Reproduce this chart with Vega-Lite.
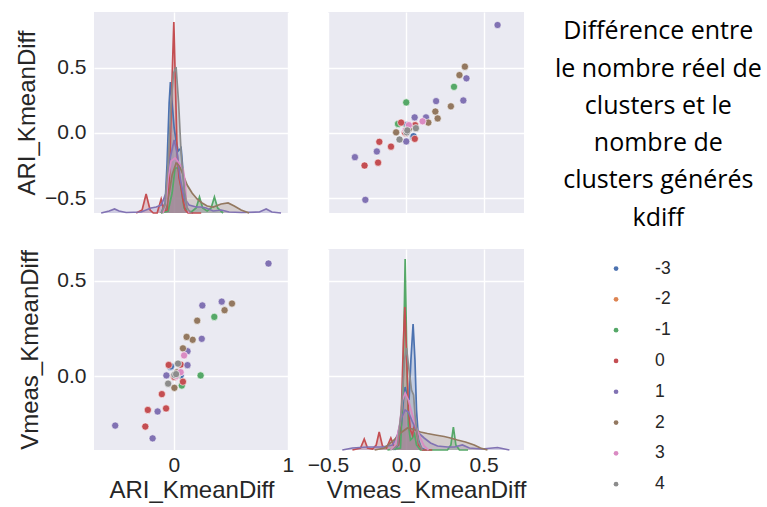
{
"$schema": "https://vega.github.io/schema/vega-lite/v6.json",
"padding": {"left": 15, "top": 12, "right": 5, "bottom": 5},
"bounds": "flush",
"columns": 2,
"spacing": {"row": 36, "column": 39},
"resolve": {"legend": {"color": "independent"}},
"datasets": {
"pts": [
{"ARI":-0.03,"Vmeas":0.047,"kdiff":-3},{"ARI":-0.025,"Vmeas":0.05,"kdiff":-3},{"ARI":0.06,"Vmeas":0.003,"kdiff":-3},{"ARI":0.0,"Vmeas":0.0,"kdiff":-3},
{"ARI":0.235,"Vmeas":0.003,"kdiff":-1},{"ARI":0.355,"Vmeas":0.31,"kdiff":-1},{"ARI":0.07,"Vmeas":-0.05,"kdiff":-1},{"ARI":0.02,"Vmeas":0.0,"kdiff":-1},{"ARI":0.03,"Vmeas":0.003,"kdiff":-1},
{"ARI":-0.045,"Vmeas":0.058,"kdiff":0},{"ARI":-0.105,"Vmeas":-0.095,"kdiff":0},{"ARI":-0.068,"Vmeas":-0.17,"kdiff":0},{"ARI":-0.25,"Vmeas":-0.265,"kdiff":0},{"ARI":-0.228,"Vmeas":-0.178,"kdiff":0},{"ARI":0.0,"Vmeas":0.0,"kdiff":0},{"ARI":0.005,"Vmeas":-0.005,"kdiff":0},{"ARI":0.08,"Vmeas":-0.03,"kdiff":0},{"ARI":0.06,"Vmeas":0.06,"kdiff":0},
{"ARI":0.83,"Vmeas":0.59,"kdiff":1},{"ARI":0.42,"Vmeas":0.39,"kdiff":1},{"ARI":0.25,"Vmeas":0.37,"kdiff":1},{"ARI":0.245,"Vmeas":0.195,"kdiff":1},{"ARI":0.12,"Vmeas":0.13,"kdiff":1},{"ARI":0.12,"Vmeas":0.057,"kdiff":1},{"ARI":-0.065,"Vmeas":0.003,"kdiff":1},{"ARI":-0.142,"Vmeas":-0.186,"kdiff":1},{"ARI":-0.186,"Vmeas":-0.327,"kdiff":1},{"ARI":-0.514,"Vmeas":-0.26,"kdiff":1},
{"ARI":0.51,"Vmeas":0.38,"kdiff":2},{"ARI":0.445,"Vmeas":0.345,"kdiff":2},{"ARI":0.205,"Vmeas":0.29,"kdiff":2},{"ARI":0.165,"Vmeas":0.19,"kdiff":2},{"ARI":0.112,"Vmeas":0.205,"kdiff":2},{"ARI":0.08,"Vmeas":0.145,"kdiff":2},{"ARI":0.005,"Vmeas":-0.062,"kdiff":2},{"ARI":0.03,"Vmeas":0.02,"kdiff":2},
{"ARI":0.09,"Vmeas":0.108,"kdiff":3},{"ARI":0.02,"Vmeas":0.0,"kdiff":3},{"ARI":0.06,"Vmeas":0.02,"kdiff":3},
{"ARI":0.037,"Vmeas":0.065,"kdiff":4},{"ARI":0.005,"Vmeas":0.006,"kdiff":4},{"ARI":-0.05,"Vmeas":-0.04,"kdiff":4},{"ARI":0.02,"Vmeas":0.01,"kdiff":4}
],
"kde": [
{"var":"ARI","kdiff":-3,"x":-0.111,"d":0},{"var":"ARI","kdiff":-3,"x":-0.076,"d":2},{"var":"ARI","kdiff":-3,"x":-0.059,"d":10},{"var":"ARI","kdiff":-3,"x":-0.041,"d":22},{"var":"ARI","kdiff":-3,"x":-0.03,"d":26.2},{"var":"ARI","kdiff":-3,"x":-0.015,"d":22},{"var":"ARI","kdiff":-3,"x":0.003,"d":17},{"var":"ARI","kdiff":-3,"x":0.02,"d":14.4},{"var":"ARI","kdiff":-3,"x":0.038,"d":12.4},{"var":"ARI","kdiff":-3,"x":0.064,"d":13},{"var":"ARI","kdiff":-3,"x":0.082,"d":8},{"var":"ARI","kdiff":-3,"x":0.1,"d":2.4},{"var":"ARI","kdiff":-3,"x":0.125,"d":0.4},{"var":"ARI","kdiff":-3,"x":0.17,"d":0},
{"var":"ARI","kdiff":-1,"x":-0.111,"d":0},{"var":"ARI","kdiff":-1,"x":-0.05,"d":0.4},{"var":"ARI","kdiff":-1,"x":-0.015,"d":4},{"var":"ARI","kdiff":-1,"x":0.011,"d":9},{"var":"ARI","kdiff":-1,"x":0.038,"d":9},{"var":"ARI","kdiff":-1,"x":0.064,"d":5},{"var":"ARI","kdiff":-1,"x":0.09,"d":1},{"var":"ARI","kdiff":-1,"x":0.117,"d":0.6},{"var":"ARI","kdiff":-1,"x":0.152,"d":0.2},{"var":"ARI","kdiff":-1,"x":0.196,"d":1},{"var":"ARI","kdiff":-1,"x":0.225,"d":3.2},{"var":"ARI","kdiff":-1,"x":0.253,"d":1},{"var":"ARI","kdiff":-1,"x":0.292,"d":0.4},{"var":"ARI","kdiff":-1,"x":0.327,"d":1},{"var":"ARI","kdiff":-1,"x":0.356,"d":3.2},{"var":"ARI","kdiff":-1,"x":0.384,"d":1},{"var":"ARI","kdiff":-1,"x":0.432,"d":0},
{"var":"ARI","kdiff":0,"x":-0.33,"d":0},{"var":"ARI","kdiff":0,"x":-0.278,"d":0.6},{"var":"ARI","kdiff":0,"x":-0.243,"d":3.8},{"var":"ARI","kdiff":0,"x":-0.208,"d":0.6},{"var":"ARI","kdiff":0,"x":-0.18,"d":0},{"var":"ARI","kdiff":0,"x":-0.146,"d":0},{"var":"ARI","kdiff":0,"x":-0.111,"d":2.8},{"var":"ARI","kdiff":0,"x":-0.085,"d":0.4},{"var":"ARI","kdiff":0,"x":-0.059,"d":0.6},{"var":"ARI","kdiff":0,"x":-0.037,"d":8},{"var":"ARI","kdiff":0,"x":-0.019,"d":24},{"var":"ARI","kdiff":0,"x":0.0,"d":38.2},{"var":"ARI","kdiff":0,"x":0.016,"d":24},{"var":"ARI","kdiff":0,"x":0.029,"d":12},{"var":"ARI","kdiff":0,"x":0.046,"d":7},{"var":"ARI","kdiff":0,"x":0.064,"d":5},{"var":"ARI","kdiff":0,"x":0.082,"d":2.4},{"var":"ARI","kdiff":0,"x":0.1,"d":0.6},{"var":"ARI","kdiff":0,"x":0.125,"d":0},{"var":"ARI","kdiff":0,"x":0.24,"d":0},
{"var":"ARI","kdiff":1,"x":-0.637,"d":0},{"var":"ARI","kdiff":1,"x":-0.567,"d":0.4},{"var":"ARI","kdiff":1,"x":-0.52,"d":0.8},{"var":"ARI","kdiff":1,"x":-0.48,"d":0.4},{"var":"ARI","kdiff":1,"x":-0.418,"d":0.1},{"var":"ARI","kdiff":1,"x":-0.287,"d":0.2},{"var":"ARI","kdiff":1,"x":-0.2,"d":1},{"var":"ARI","kdiff":1,"x":-0.155,"d":1.2},{"var":"ARI","kdiff":1,"x":-0.11,"d":1.6},{"var":"ARI","kdiff":1,"x":-0.068,"d":4},{"var":"ARI","kdiff":1,"x":-0.032,"d":11},{"var":"ARI","kdiff":1,"x":0.003,"d":14.6},{"var":"ARI","kdiff":1,"x":0.029,"d":12},{"var":"ARI","kdiff":1,"x":0.055,"d":7},{"var":"ARI","kdiff":1,"x":0.09,"d":3},{"var":"ARI","kdiff":1,"x":0.134,"d":1.6},{"var":"ARI","kdiff":1,"x":0.196,"d":1.2},{"var":"ARI","kdiff":1,"x":0.24,"d":1.2},{"var":"ARI","kdiff":1,"x":0.283,"d":1},{"var":"ARI","kdiff":1,"x":0.345,"d":0.4},{"var":"ARI","kdiff":1,"x":0.415,"d":0.6},{"var":"ARI","kdiff":1,"x":0.485,"d":0.2},{"var":"ARI","kdiff":1,"x":0.59,"d":0.1},{"var":"ARI","kdiff":1,"x":0.75,"d":0.2},{"var":"ARI","kdiff":1,"x":0.81,"d":0.8},{"var":"ARI","kdiff":1,"x":0.86,"d":0.2},{"var":"ARI","kdiff":1,"x":0.94,"d":0},
{"var":"ARI","kdiff":2,"x":-0.111,"d":0},{"var":"ARI","kdiff":2,"x":-0.068,"d":1},{"var":"ARI","kdiff":2,"x":-0.041,"d":4},{"var":"ARI","kdiff":2,"x":-0.015,"d":7.6},{"var":"ARI","kdiff":2,"x":0.02,"d":10},{"var":"ARI","kdiff":2,"x":0.046,"d":9.6},{"var":"ARI","kdiff":2,"x":0.082,"d":7.6},{"var":"ARI","kdiff":2,"x":0.117,"d":5.6},{"var":"ARI","kdiff":2,"x":0.16,"d":4},{"var":"ARI","kdiff":2,"x":0.204,"d":2.8},{"var":"ARI","kdiff":2,"x":0.248,"d":2},{"var":"ARI","kdiff":2,"x":0.292,"d":1.4},{"var":"ARI","kdiff":2,"x":0.345,"d":1.2},{"var":"ARI","kdiff":2,"x":0.415,"d":1.8},{"var":"ARI","kdiff":2,"x":0.476,"d":2},{"var":"ARI","kdiff":2,"x":0.53,"d":1.4},{"var":"ARI","kdiff":2,"x":0.59,"d":0.6},{"var":"ARI","kdiff":2,"x":0.66,"d":0},
{"var":"ARI","kdiff":3,"x":-0.094,"d":0},{"var":"ARI","kdiff":3,"x":-0.068,"d":2},{"var":"ARI","kdiff":3,"x":-0.05,"d":7},{"var":"ARI","kdiff":3,"x":-0.024,"d":10.4},{"var":"ARI","kdiff":3,"x":0.011,"d":11},{"var":"ARI","kdiff":3,"x":0.046,"d":10},{"var":"ARI","kdiff":3,"x":0.082,"d":8.8},{"var":"ARI","kdiff":3,"x":0.1,"d":6},{"var":"ARI","kdiff":3,"x":0.112,"d":1.6},{"var":"ARI","kdiff":3,"x":0.134,"d":0},
{"var":"ARI","kdiff":4,"x":-0.111,"d":0},{"var":"ARI","kdiff":4,"x":-0.076,"d":1.6},{"var":"ARI","kdiff":4,"x":-0.05,"d":10},{"var":"ARI","kdiff":4,"x":-0.024,"d":22},{"var":"ARI","kdiff":4,"x":-0.002,"d":28},{"var":"ARI","kdiff":4,"x":0.02,"d":29.2},{"var":"ARI","kdiff":4,"x":0.042,"d":22},{"var":"ARI","kdiff":4,"x":0.064,"d":12},{"var":"ARI","kdiff":4,"x":0.09,"d":5},{"var":"ARI","kdiff":4,"x":0.117,"d":1},{"var":"ARI","kdiff":4,"x":0.15,"d":0},
{"var":"Vmeas","kdiff":-3,"x":-0.073,"d":0},{"var":"Vmeas","kdiff":-3,"x":-0.047,"d":1},{"var":"Vmeas","kdiff":-3,"x":-0.028,"d":5},{"var":"Vmeas","kdiff":-3,"x":-0.015,"d":10},{"var":"Vmeas","kdiff":-3,"x":-0.004,"d":12.6},{"var":"Vmeas","kdiff":-3,"x":0.008,"d":11},{"var":"Vmeas","kdiff":-3,"x":0.021,"d":10},{"var":"Vmeas","kdiff":-3,"x":0.033,"d":18},{"var":"Vmeas","kdiff":-3,"x":0.047,"d":25.2},{"var":"Vmeas","kdiff":-3,"x":0.059,"d":18},{"var":"Vmeas","kdiff":-3,"x":0.069,"d":8},{"var":"Vmeas","kdiff":-3,"x":0.082,"d":2},{"var":"Vmeas","kdiff":-3,"x":0.1,"d":0.4},{"var":"Vmeas","kdiff":-3,"x":0.127,"d":0},
{"var":"Vmeas","kdiff":-1,"x":-0.118,"d":0},{"var":"Vmeas","kdiff":-1,"x":-0.034,"d":0.4},{"var":"Vmeas","kdiff":-1,"x":-0.018,"d":12},{"var":"Vmeas","kdiff":-1,"x":-0.004,"d":38.2},{"var":"Vmeas","kdiff":-1,"x":0.008,"d":16},{"var":"Vmeas","kdiff":-1,"x":0.017,"d":5},{"var":"Vmeas","kdiff":-1,"x":0.03,"d":2},{"var":"Vmeas","kdiff":-1,"x":0.043,"d":2.4},{"var":"Vmeas","kdiff":-1,"x":0.056,"d":3.2},{"var":"Vmeas","kdiff":-1,"x":0.069,"d":1},{"var":"Vmeas","kdiff":-1,"x":0.094,"d":0},{"var":"Vmeas","kdiff":-1,"x":0.268,"d":0},{"var":"Vmeas","kdiff":-1,"x":0.29,"d":1},{"var":"Vmeas","kdiff":-1,"x":0.306,"d":4.6},{"var":"Vmeas","kdiff":-1,"x":0.322,"d":1},{"var":"Vmeas","kdiff":-1,"x":0.345,"d":0},{"var":"Vmeas","kdiff":-1,"x":0.4,"d":0},
{"var":"Vmeas","kdiff":0,"x":-0.343,"d":0},{"var":"Vmeas","kdiff":0,"x":-0.291,"d":0.4},{"var":"Vmeas","kdiff":0,"x":-0.267,"d":2.2},{"var":"Vmeas","kdiff":0,"x":-0.246,"d":0.4},{"var":"Vmeas","kdiff":0,"x":-0.214,"d":0.2},{"var":"Vmeas","kdiff":0,"x":-0.19,"d":1},{"var":"Vmeas","kdiff":0,"x":-0.171,"d":3.6},{"var":"Vmeas","kdiff":0,"x":-0.15,"d":0.8},{"var":"Vmeas","kdiff":0,"x":-0.124,"d":0.4},{"var":"Vmeas","kdiff":0,"x":-0.096,"d":2.4},{"var":"Vmeas","kdiff":0,"x":-0.073,"d":0.6},{"var":"Vmeas","kdiff":0,"x":-0.047,"d":1},{"var":"Vmeas","kdiff":0,"x":-0.028,"d":8},{"var":"Vmeas","kdiff":0,"x":-0.015,"d":22},{"var":"Vmeas","kdiff":0,"x":-0.006,"d":28.6},{"var":"Vmeas","kdiff":0,"x":0.004,"d":20},{"var":"Vmeas","kdiff":0,"x":0.017,"d":8},{"var":"Vmeas","kdiff":0,"x":0.03,"d":4},{"var":"Vmeas","kdiff":0,"x":0.043,"d":3},{"var":"Vmeas","kdiff":0,"x":0.056,"d":5},{"var":"Vmeas","kdiff":0,"x":0.069,"d":4},{"var":"Vmeas","kdiff":0,"x":0.082,"d":1},{"var":"Vmeas","kdiff":0,"x":0.107,"d":0},{"var":"Vmeas","kdiff":0,"x":0.17,"d":0},
{"var":"Vmeas","kdiff":1,"x":-0.408,"d":0},{"var":"Vmeas","kdiff":1,"x":-0.343,"d":0.4},{"var":"Vmeas","kdiff":1,"x":-0.246,"d":0.6},{"var":"Vmeas","kdiff":1,"x":-0.15,"d":0.6},{"var":"Vmeas","kdiff":1,"x":-0.085,"d":1},{"var":"Vmeas","kdiff":1,"x":-0.053,"d":3},{"var":"Vmeas","kdiff":1,"x":-0.028,"d":6.4},{"var":"Vmeas","kdiff":1,"x":-0.004,"d":8},{"var":"Vmeas","kdiff":1,"x":0.017,"d":7.6},{"var":"Vmeas","kdiff":1,"x":0.043,"d":5.6},{"var":"Vmeas","kdiff":1,"x":0.075,"d":3.6},{"var":"Vmeas","kdiff":1,"x":0.118,"d":2.4},{"var":"Vmeas","kdiff":1,"x":0.159,"d":1.4},{"var":"Vmeas","kdiff":1,"x":0.204,"d":0.8},{"var":"Vmeas","kdiff":1,"x":0.268,"d":0.6},{"var":"Vmeas","kdiff":1,"x":0.313,"d":0.6},{"var":"Vmeas","kdiff":1,"x":0.364,"d":1},{"var":"Vmeas","kdiff":1,"x":0.409,"d":0.4},{"var":"Vmeas","kdiff":1,"x":0.49,"d":0.2},{"var":"Vmeas","kdiff":1,"x":0.59,"d":0.5},{"var":"Vmeas","kdiff":1,"x":0.666,"d":0},
{"var":"Vmeas","kdiff":2,"x":-0.2,"d":0},{"var":"Vmeas","kdiff":2,"x":-0.137,"d":0.4},{"var":"Vmeas","kdiff":2,"x":-0.075,"d":2},{"var":"Vmeas","kdiff":2,"x":-0.034,"d":3.4},{"var":"Vmeas","kdiff":2,"x":0.011,"d":4.4},{"var":"Vmeas","kdiff":2,"x":0.043,"d":4.2},{"var":"Vmeas","kdiff":2,"x":0.094,"d":3.6},{"var":"Vmeas","kdiff":2,"x":0.139,"d":3.3},{"var":"Vmeas","kdiff":2,"x":0.19,"d":3},{"var":"Vmeas","kdiff":2,"x":0.247,"d":2.7},{"var":"Vmeas","kdiff":2,"x":0.287,"d":2.4},{"var":"Vmeas","kdiff":2,"x":0.332,"d":2},{"var":"Vmeas","kdiff":2,"x":0.384,"d":1.6},{"var":"Vmeas","kdiff":2,"x":0.44,"d":1},{"var":"Vmeas","kdiff":2,"x":0.48,"d":0.4},{"var":"Vmeas","kdiff":2,"x":0.525,"d":0},
{"var":"Vmeas","kdiff":3,"x":-0.098,"d":0},{"var":"Vmeas","kdiff":3,"x":-0.066,"d":1},{"var":"Vmeas","kdiff":3,"x":-0.04,"d":5},{"var":"Vmeas","kdiff":3,"x":-0.021,"d":10},{"var":"Vmeas","kdiff":3,"x":-0.004,"d":11.4},{"var":"Vmeas","kdiff":3,"x":0.017,"d":10},{"var":"Vmeas","kdiff":3,"x":0.043,"d":7},{"var":"Vmeas","kdiff":3,"x":0.069,"d":4.4},{"var":"Vmeas","kdiff":3,"x":0.094,"d":2.4},{"var":"Vmeas","kdiff":3,"x":0.118,"d":0.8},{"var":"Vmeas","kdiff":3,"x":0.146,"d":0},
{"var":"Vmeas","kdiff":4,"x":-0.085,"d":0},{"var":"Vmeas","kdiff":4,"x":-0.053,"d":1},{"var":"Vmeas","kdiff":4,"x":-0.028,"d":8},{"var":"Vmeas","kdiff":4,"x":-0.008,"d":18},{"var":"Vmeas","kdiff":4,"x":0.005,"d":20.4},{"var":"Vmeas","kdiff":4,"x":0.021,"d":16},{"var":"Vmeas","kdiff":4,"x":0.037,"d":12},{"var":"Vmeas","kdiff":4,"x":0.05,"d":11},{"var":"Vmeas","kdiff":4,"x":0.062,"d":6},{"var":"Vmeas","kdiff":4,"x":0.082,"d":1.6},{"var":"Vmeas","kdiff":4,"x":0.107,"d":0}
]
},
"concat": [
{
 "width": 195, "height": 201,
 "layer": [
  {"data": {"name": "pts"}, "mark": {"type": "point", "opacity": 0},
   "encoding": {
    "x": {"field": "ARI", "type": "quantitative", "scale": {"domain": [-0.7, 1.01], "nice": false, "zero": false}, "axis": {"values": [0, 1], "labels": false, "title": null}},
    "y": {"field": "ARI", "type": "quantitative", "scale": {"domain": [-0.615, 0.93], "nice": false, "zero": false}, "axis": {"values": [-0.5, 0, 0.5], "format": ".1f", "title": "ARI_KmeanDiff", "titlePadding": 5}}}},
  {"data": {"name": "kde"}, "transform": [{"filter": "datum.var == 'ARI'"}], "mark": {"type": "area", "opacity": 0.25},
   "encoding": {
    "x": {"field": "x", "type": "quantitative", "scale": {"domain": [-0.7, 1.01], "nice": false, "zero": false}, "axis": {"values": [0, 1], "labels": false, "title": null}},
    "y": {"field": "d", "type": "quantitative", "stack": null, "scale": {"domain": [0, 40.2], "nice": false}, "axis": null},
    "color": {"field": "kdiff", "type": "nominal", "scale": {"domain": [-3, -2, -1, 0, 1, 2, 3, 4], "range": ["#4C72B0", "#DD8452", "#55A868", "#C44E52", "#8172B3", "#937860", "#DA8BC3", "#8C8C8C"]}, "legend": null}}},
  {"data": {"name": "kde"}, "transform": [{"filter": "datum.var == 'ARI'"}], "mark": {"type": "line", "strokeWidth": 1.7},
   "encoding": {
    "x": {"field": "x", "type": "quantitative", "scale": {"domain": [-0.7, 1.01], "nice": false, "zero": false}, "axis": {"values": [0, 1], "labels": false, "title": null}},
    "y": {"field": "d", "type": "quantitative", "scale": {"domain": [0, 40.2], "nice": false}, "axis": null},
    "color": {"field": "kdiff", "type": "nominal", "scale": {"domain": [-3, -2, -1, 0, 1, 2, 3, 4], "range": ["#4C72B0", "#DD8452", "#55A868", "#C44E52", "#8172B3", "#937860", "#DA8BC3", "#8C8C8C"]}, "legend": null}}}
 ],
 "resolve": {"scale": {"y": "independent"}}
},
{
 "width": 196, "height": 201,
 "data": {"name": "pts"},
 "mark": {"type": "circle", "size": 52, "opacity": 1, "stroke": "white", "strokeWidth": 0.6},
 "encoding": {
  "x": {"field": "Vmeas", "type": "quantitative", "scale": {"domain": [-0.5, 0.76], "nice": false, "zero": false}, "axis": {"values": [-0.5, 0, 0.5], "labels": false, "title": null}},
  "y": {"field": "ARI", "type": "quantitative", "scale": {"domain": [-0.615, 0.93], "nice": false, "zero": false}, "axis": {"values": [-0.5, 0, 0.5], "labels": false, "title": null}},
  "color": {"field": "kdiff", "type": "nominal", "scale": {"domain": [-3, -2, -1, 0, 1, 2, 3, 4], "range": ["#4C72B0", "#DD8452", "#55A868", "#C44E52", "#8172B3", "#937860", "#DA8BC3", "#8C8C8C"]},
   "legend": {"title": ["Différence entre", "le nombre réel de", "clusters et le", "nombre de", "clusters générés", "kdiff"], "labelExpr": "datum.label + '\u2003\u2003\u2009\u200B'"}}
 }
},
{
 "width": 195, "height": 201,
 "data": {"name": "pts"},
 "mark": {"type": "circle", "size": 52, "opacity": 1, "stroke": "white", "strokeWidth": 0.6},
 "encoding": {
  "x": {"field": "ARI", "type": "quantitative", "scale": {"domain": [-0.7, 1.01], "nice": false, "zero": false}, "axis": {"values": [0, 1], "format": "d", "title": "ARI_KmeanDiff", "labelPadding": 4, "titlePadding": 3}},
  "y": {"field": "Vmeas", "type": "quantitative", "scale": {"domain": [-0.388, 0.666], "nice": false, "zero": false}, "axis": {"values": [0, 0.5], "format": ".1f", "title": "Vmeas_KmeanDiff", "titlePadding": 14}},
  "color": {"field": "kdiff", "type": "nominal", "scale": {"domain": [-3, -2, -1, 0, 1, 2, 3, 4], "range": ["#4C72B0", "#DD8452", "#55A868", "#C44E52", "#8172B3", "#937860", "#DA8BC3", "#8C8C8C"]}, "legend": null}
 }
},
{
 "width": 196, "height": 201,
 "layer": [
  {"data": {"name": "pts"}, "mark": {"type": "point", "opacity": 0},
   "encoding": {
    "x": {"field": "Vmeas", "type": "quantitative", "scale": {"domain": [-0.5, 0.76], "nice": false, "zero": false}, "axis": {"values": [-0.5, 0, 0.5], "format": ".1f", "title": "Vmeas_KmeanDiff", "labelPadding": 4, "titlePadding": 3}},
    "y": {"field": "Vmeas", "type": "quantitative", "scale": {"domain": [-0.388, 0.666], "nice": false, "zero": false}, "axis": {"values": [0, 0.5], "labels": false, "title": null}}}},
  {"data": {"name": "kde"}, "transform": [{"filter": "datum.var == 'Vmeas'"}], "mark": {"type": "area", "opacity": 0.25},
   "encoding": {
    "x": {"field": "x", "type": "quantitative", "scale": {"domain": [-0.5, 0.76], "nice": false, "zero": false}, "axis": {"values": [-0.5, 0, 0.5], "format": ".1f", "title": "Vmeas_KmeanDiff", "labelPadding": 4, "titlePadding": 3}},
    "y": {"field": "d", "type": "quantitative", "stack": null, "scale": {"domain": [0, 40.2], "nice": false}, "axis": null},
    "color": {"field": "kdiff", "type": "nominal", "scale": {"domain": [-3, -2, -1, 0, 1, 2, 3, 4], "range": ["#4C72B0", "#DD8452", "#55A868", "#C44E52", "#8172B3", "#937860", "#DA8BC3", "#8C8C8C"]}, "legend": null}}},
  {"data": {"name": "kde"}, "transform": [{"filter": "datum.var == 'Vmeas'"}], "mark": {"type": "line", "strokeWidth": 1.7},
   "encoding": {
    "x": {"field": "x", "type": "quantitative", "scale": {"domain": [-0.5, 0.76], "nice": false, "zero": false}, "axis": {"values": [-0.5, 0, 0.5], "format": ".1f", "title": "Vmeas_KmeanDiff", "labelPadding": 4, "titlePadding": 3}},
    "y": {"field": "d", "type": "quantitative", "scale": {"domain": [0, 40.2], "nice": false}, "axis": null},
    "color": {"field": "kdiff", "type": "nominal", "scale": {"domain": [-3, -2, -1, 0, 1, 2, 3, 4], "range": ["#4C72B0", "#DD8452", "#55A868", "#C44E52", "#8172B3", "#937860", "#DA8BC3", "#8C8C8C"]}, "legend": null}}}
 ],
 "resolve": {"scale": {"y": "independent"}}
}
],
"config": {
 "background": "white",
 "font": "Liberation Sans",
 "view": {"fill": "#EAEAF2", "stroke": null},
 "axis": {"grid": true, "gridColor": "white", "gridWidth": 1.4, "domain": false, "ticks": false, "labelFlush": false, "labelOverlap": false,
  "labelFont": "Liberation Sans", "labelFontSize": 21, "labelColor": "#262626", "labelPadding": 8,
  "titleFont": "Liberation Sans", "titleFontSize": 24, "titleFontWeight": "normal", "titleColor": "#262626"},
 "legend": {"orient": "right", "offset": 24, "padding": 7.3,
  "titleFont": "Open Sans", "titleFontSize": 25, "titleFontWeight": "normal", "titleColor": "black", "titleLineHeight": 37.3, "titleAlign": "center", "titleAnchor": "middle", "titleLimit": 400, "titlePadding": 29,
  "labelFont": "Liberation Sans", "labelFontSize": 17.5, "labelColor": "#262626",
  "symbolType": "circle", "symbolSize": 22, "symbolStrokeWidth": 0, "symbolOffset": 0, "labelOffset": 30.25, "rowPadding": 11.8}
}
}
